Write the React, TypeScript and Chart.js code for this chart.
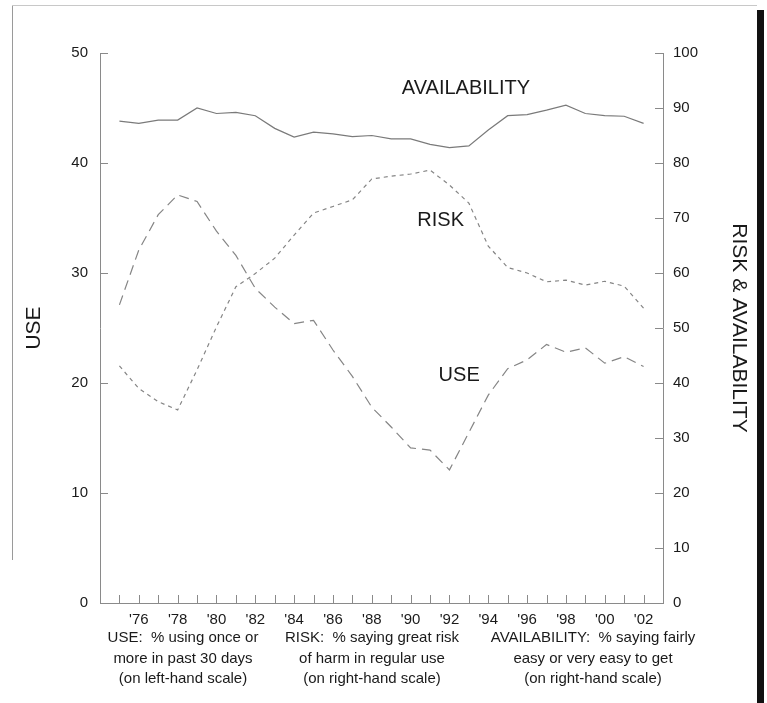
import React, { useEffect, useRef } from 'react';
import { Chart, registerables } from 'chart.js';

Chart.register(...registerables);

const years = [1975, 1976, 1977, 1978, 1979, 1980, 1981, 1982, 1983, 1984, 1985, 1986, 1987, 1988, 1989, 1990, 1991, 1992, 1993, 1994, 1995, 1996, 1997, 1998, 1999, 2000, 2001, 2002];
const useValues = [27.1, 32.1, 35.3, 37.1, 36.5, 33.8, 31.6, 28.6, 26.9, 25.4, 25.7, 23.0, 20.6, 17.8, 16.0, 14.1, 13.9, 12.1, 15.5, 18.9, 21.3, 22.1, 23.5, 22.8, 23.2, 21.8, 22.4, 21.5];
const riskValues = [43.1, 39.0, 36.6, 35.1, 42.4, 50.2, 57.5, 59.9, 62.7, 66.9, 70.9, 72.1, 73.3, 77.1, 77.6, 78.0, 78.7, 76.0, 72.7, 64.9, 61.0, 60.0, 58.4, 58.7, 57.8, 58.5, 57.6, 53.6];
const availabilityValues = [87.6, 87.2, 87.8, 87.8, 90.0, 89.0, 89.2, 88.6, 86.3, 84.7, 85.6, 85.3, 84.8, 85.0, 84.4, 84.4, 83.4, 82.8, 83.1, 86.0, 88.6, 88.8, 89.6, 90.5, 89.0, 88.6, 88.5, 87.2];

const leftTickValues = [0, 10, 20, 30, 40, 50];
const rightTickValues = [0, 10, 20, 30, 40, 50, 60, 70, 80, 90, 100];
const labeledYears = [1976, 1978, 1980, 1982, 1984, 1986, 1988, 1990, 1992, 1994, 1996, 1998, 2000, 2002];

const leftTitle = 'USE';
const rightTitle = 'RISK & AVAILABILITY';
const seriesNames = ['USE', 'RISK', 'AVAILABILITY'];

const noteUse = ['USE:  % using once or', 'more in past 30 days', '(on left-hand scale)'];
const noteRisk = ['RISK:  % saying great risk', 'of harm in regular use', '(on right-hand scale)'];
const noteAvailability = ['AVAILABILITY:  % saying fairly', 'easy or very easy to get', '(on right-hand scale)'];

const FONT = 'Arial, "Liberation Sans", Helvetica, sans-serif';

const decorPlugin = {
  id: 'decor',
  afterDraw(chart: any) {
    const { ctx, chartArea, scales } = chart;
    const x = scales.x;
    const yl = scales.yLeft;
    const yr = scales.yRight;
    ctx.save();
    // inward tick marks
    ctx.strokeStyle = '#8a8a8a';
    ctx.lineWidth = 1;
    ctx.beginPath();
    for (const yrv of years) {
      const px = Math.round(x.getPixelForValue(yrv)) + 0.5;
      ctx.moveTo(px, chartArea.bottom);
      ctx.lineTo(px, chartArea.bottom - 8);
    }
    for (const v of leftTickValues) {
      const py = Math.round(yl.getPixelForValue(v)) + 0.5;
      ctx.moveTo(chartArea.left, py);
      ctx.lineTo(chartArea.left + 8, py);
    }
    for (const v of rightTickValues) {
      const py = Math.round(yr.getPixelForValue(v)) + 0.5;
      ctx.moveTo(chartArea.right, py);
      ctx.lineTo(chartArea.right - 8, py);
    }
    ctx.stroke();

    // in-chart series labels
    ctx.fillStyle = '#1a1a1a';
    ctx.font = `20px ${FONT}`;
    ctx.textAlign = 'center';
    ctx.textBaseline = 'middle';
    ctx.fillText(seriesNames[2], x.getPixelForValue(1992.85), yr.getPixelForValue(93.6));
    ctx.fillText(seriesNames[1], x.getPixelForValue(1991.55), yr.getPixelForValue(69.5));
    ctx.fillText(seriesNames[0], x.getPixelForValue(1992.5), yl.getPixelForValue(20.7));

    // notes under the axis
    ctx.font = `15px ${FONT}`;
    ctx.fillStyle = '#1a1a1a';
    const blocks: [string[], number][] = [
      [noteUse, 183],
      [noteRisk, 372],
      [noteAvailability, 593],
    ];
    for (const [lines, cx] of blocks) {
      lines.forEach((t, i) => {
        ctx.fillText(t, cx, chartArea.bottom + 35 + i * 20.5);
      });
    }
    ctx.restore();
  },
};

export default function App() {
  const canvasRef = useRef<HTMLCanvasElement | null>(null);

  useEffect(() => {
    if (!canvasRef.current) return;
    const toPoints = (vals: number[]) => years.map((yv, i) => ({ x: yv, y: vals[i] }));
    const chart = new Chart(canvasRef.current, {
      type: 'line',
      data: {
        datasets: [
          {
            label: seriesNames[0],
            data: toPoints(useValues),
            yAxisID: 'yLeft',
            borderColor: '#858585',
            borderWidth: 1.2,
            borderDash: [10, 6],
            pointRadius: 0,
            tension: 0,
            fill: false,
          },
          {
            label: seriesNames[1],
            data: toPoints(riskValues),
            yAxisID: 'yRight',
            borderColor: '#858585',
            borderWidth: 1.2,
            borderDash: [4, 4],
            pointRadius: 0,
            tension: 0,
            fill: false,
          },
          {
            label: seriesNames[2],
            data: toPoints(availabilityValues),
            yAxisID: 'yRight',
            borderColor: '#7a7a7a',
            borderWidth: 1.2,
            pointRadius: 0,
            tension: 0,
            fill: false,
          },
        ],
      },
      options: {
        responsive: false,
        animation: false,
        devicePixelRatio: 1,
        layout: { padding: { top: 53, left: 0, right: 0, bottom: 0 } },
        plugins: { legend: { display: false }, tooltip: { enabled: false } },
        scales: {
          x: {
            type: 'linear',
            min: 1974,
            max: 2003,
            afterFit: (s: any) => { s.height = 100; },
            afterBuildTicks: (s: any) => { s.ticks = labeledYears.map((v) => ({ value: v })); },
            ticks: {
              autoSkip: false,
              maxRotation: 0,
              padding: 8,
              color: '#1a1a1a',
              font: { family: FONT, size: 15 },
              callback: (v: any) => "'" + String(v).slice(2),
            },
            grid: { display: false, drawTicks: false },
            border: { display: true, color: '#8a8a8a', width: 1 },
          },
          yLeft: {
            type: 'linear',
            position: 'left',
            min: 0,
            max: 50,
            afterFit: (s: any) => { s.width = 100; },
            afterBuildTicks: (s: any) => { s.ticks = leftTickValues.map((v) => ({ value: v })); },
            ticks: { padding: 12, color: '#1a1a1a', font: { family: FONT, size: 15 } },
            grid: { display: false, drawTicks: false },
            border: { display: true, color: '#8a8a8a', width: 1 },
            title: {
              display: true,
              text: leftTitle,
              color: '#1a1a1a',
              font: { family: FONT, size: 21 },
              padding: { top: 22, bottom: 0 },
            },
          },
          yRight: {
            type: 'linear',
            position: 'right',
            min: 0,
            max: 100,
            afterFit: (s: any) => { s.width = 104; },
            afterBuildTicks: (s: any) => { s.ticks = rightTickValues.map((v) => ({ value: v })); },
            ticks: { padding: 10, color: '#1a1a1a', font: { family: FONT, size: 15 } },
            grid: { display: false, drawTicks: false },
            border: { display: true, color: '#8a8a8a', width: 1 },
            title: {
              display: true,
              text: rightTitle,
              color: '#1a1a1a',
              font: { family: FONT, size: 21 },
              padding: { top: 16, bottom: 0 },
            },
          },
        },
      },
      plugins: [decorPlugin],
    });
    return () => chart.destroy();
  }, []);

  return (
    <div style={{ position: 'absolute', left: 0, top: 0, width: 767, height: 703, background: '#fff', overflow: 'hidden' }}>
      <canvas ref={canvasRef} width={767} height={703} style={{ display: 'block' }} />
      <div style={{ position: 'absolute', left: 12, top: 5, width: 1, height: 555, background: '#9a9a9a' }} />
      <div style={{ position: 'absolute', left: 12, top: 5, width: 745, height: 1, background: '#c8c8c8' }} />
      <div style={{ position: 'absolute', left: 757, top: 10, width: 7, height: 693, background: '#111' }} />
    </div>
  );
}
